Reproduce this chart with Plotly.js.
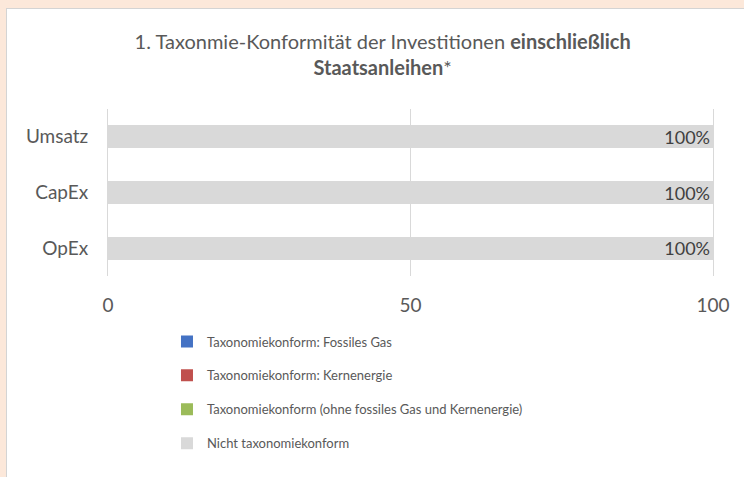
<!DOCTYPE html>
<html>
<head>
<meta charset="utf-8">
<script src="https://cdn.plot.ly/plotly-3.0.1.min.js"></script>
<style>
html,body{margin:0;padding:0;background:#FCE8DA;width:744px;height:477px;overflow:hidden;}
#wrap{position:absolute;left:6px;top:8px;width:740px;height:471px;background:#fff;border-left:1px solid #d4d4d4;border-top:1px solid #d4d4d4;}
#chart{position:absolute;left:0;top:0;width:738px;height:469px;}
</style>
</head>
<body>
<div id="wrap"><div id="chart"></div></div>
<script>
var categories = ['OpEx', 'CapEx', 'Umsatz'];
var fossilesGas = [0, 0, 0];
var kernenergie = [0, 0, 0];
var taxonomiekonformOhne = [0, 0, 0];
var nichtTaxonomiekonform = [100, 100, 100];
var seriesNames = [
  'Taxonomiekonform: Fossiles Gas',
  'Taxonomiekonform: Kernenergie',
  'Taxonomiekonform (ohne fossiles Gas und Kernenergie)',
  'Nicht taxonomiekonform'
];
var xTicks = [0, 50, 100];

var colors = ['#4472C4', '#C0504D', '#9BBB59', '#D9D9D9'];
var seriesVals = [fossilesGas, kernenergie, taxonomiekonformOhne, nichtTaxonomiekonform];

var traces = seriesVals.map(function(vals, i) {
  var t = {
    type: 'bar',
    orientation: 'h',
    y: categories,
    x: vals,
    name: seriesNames[i],
    legendgroup: 'g' + i,
    marker: {color: colors[i]},
    hoverinfo: 'x+name'
  };
  if (i === 3) {
    t.texttemplate = '%{x}%';
    t.textposition = 'inside';
    t.insidetextanchor = 'end';
    t.constraintext = 'none';
    t.textfont = {family: 'Lato, sans-serif', size: 18, color: '#404040'};
  } else {
    t.textposition = 'none';
  }
  return t;
});

var layout = {
  width: 738,
  height: 469,
  paper_bgcolor: '#ffffff',
  plot_bgcolor: '#ffffff',
  barmode: 'stack',
  bargap: 0.59,
  font: {family: 'Lato, sans-serif', color: '#595959'},
  margin: {l: 101, r: 32, t: 100, b: 202},
  title: {
    text: '1. Taxonmie-Konformität der Investitionen <b>einschließlich</b><br><b>Staatsanleihen</b>*',
    font: {family: 'Lato, sans-serif', size: 20, color: '#595959'},
    x: 0.509, xref: 'container', xanchor: 'center',
    y: 0.915, yref: 'container', yanchor: 'top'
  },
  xaxis: {
    range: [0, 100],
    tickvals: xTicks,
    ticktext: xTicks.map(String),
    showgrid: true,
    gridcolor: '#D9D9D9',
    gridwidth: 1,
    zeroline: false,
    showline: false,
    ticks: '',
    ticklabelstandoff: 16,
    tickfont: {family: 'Lato, sans-serif', size: 19, color: '#595959'},
    fixedrange: true
  },
  yaxis: {
    type: 'category',
    categoryorder: 'array',
    categoryarray: categories,
    showgrid: false,
    zeroline: false,
    showline: true,
    mirror: true,
    linecolor: '#D9D9D9',
    linewidth: 1,
    ticks: '',
    ticklabelstandoff: 15,
    tickfont: {family: 'Lato, sans-serif', size: 19, color: '#595959'},
    fixedrange: true
  },
  showlegend: true,
  legend: {
    orientation: 'v',
    traceorder: 'grouped',
    tracegroupgap: 14,
    x: 0.0975, xanchor: 'left',
    y: 0.323, yref: 'container', yanchor: 'top',
    font: {family: 'Lato, sans-serif', size: 13, color: '#595959'},
    bgcolor: 'rgba(0,0,0,0)',
    itemclick: false,
    itemdoubleclick: false
  }
};

Plotly.newPlot('chart', traces, layout, {displayModeBar: false, staticPlot: true});
</script>
</body>
</html>
